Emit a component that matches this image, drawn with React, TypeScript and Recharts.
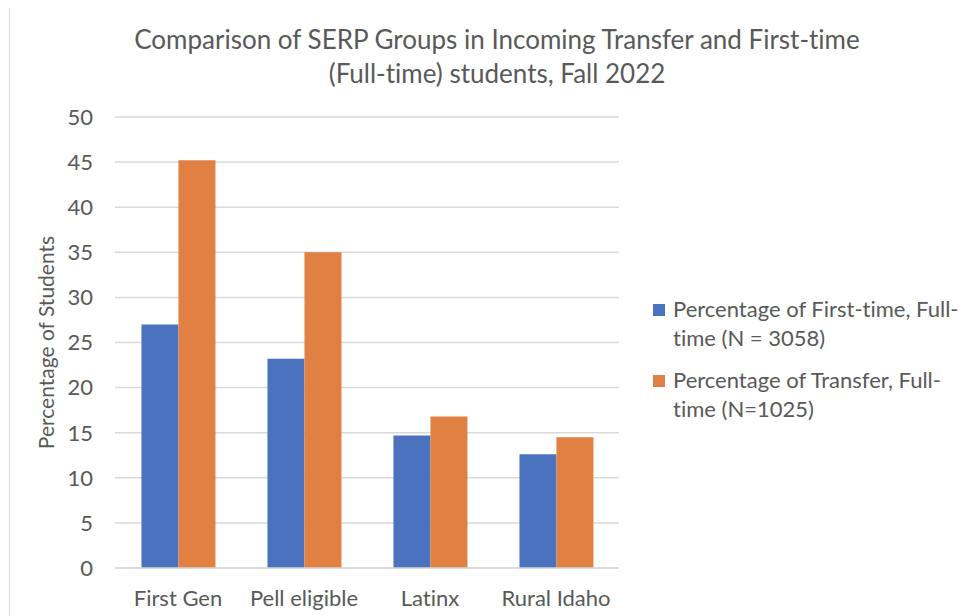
import { Bar, BarChart, CartesianGrid, Legend, XAxis, YAxis } from "recharts";

const categories = ["First Gen", "Pell eligible", "Latinx", "Rural Idaho"];
const firstTimeValues = [27, 23.2, 14.7, 12.6];
const transferValues = [45.2, 35, 16.8, 14.5];
const yTicks = [0, 5, 10, 15, 20, 25, 30, 35, 40, 45, 50];

const firstTimeName = "Percentage of First-time, Full-time (N = 3058)";
const transferName = "Percentage of Transfer, Full-time (N=1025)";
const titleLines = [
  "Comparison of SERP Groups in Incoming Transfer and First-time",
  "(Full-time) students, Fall 2022"
];

const FONT = "Lato, 'Open Sans', sans-serif";
const TEXT = "#595959";
const BLUE = "#4A72BE";
const ORANGE = "#E08143";

const data = categories.map((name, i) => ({
  name,
  firstTime: firstTimeValues[i],
  transfer: transferValues[i]
}));

function LegendBox({ payload }: any) {
  return (
    <div style={{ fontFamily: FONT, fontSize: 22, color: TEXT, lineHeight: "29px", fontVariantLigatures: "none" }}>
      {(payload || []).map((entry: any) => (
        <div key={entry.value} style={{ display: "flex", marginBottom: 13 }}>
          <span
            style={{
              display: "inline-block",
              width: 12,
              height: 12,
              background: entry.color,
              marginTop: 10,
              marginRight: 8,
              flexShrink: 0
            }}
          />
          <span style={{ width: 300 }}>{entry.value}</span>
        </div>
      ))}
    </div>
  );
}

export default function App() {
  return (
    <div
      style={{
        position: "absolute",
        left: 0,
        top: 0,
        width: 970,
        height: 616,
        background: "#fff",
        overflow: "hidden",
        fontVariantLigatures: "none"
      }}
    >
      <div style={{ position: "absolute", left: 9, top: 8, width: 1, height: 608, background: "#d9d9d9" }} />
      {titleLines.map((line, i) => (
        <div
          key={line}
          style={{
            position: "absolute",
            left: 0,
            width: 994,
            top: 23 + i * 34,
            lineHeight: "32px",
            textAlign: "center",
            fontFamily: FONT,
            fontSize: 26,
            color: TEXT,
            whiteSpace: "nowrap"
          }}
        >
          {line}
        </div>
      ))}
      <BarChart
        width={970}
        height={616}
        data={data}
        margin={{ top: 117, right: 351, bottom: 0, left: 0 }}
        barCategoryGap="21%"
        barGap={0}
      >
        <CartesianGrid vertical={false} stroke="#d9d9d9" strokeWidth={1.5} />
        <XAxis
          dataKey="name"
          height={48}
          axisLine={{ stroke: "#d9d9d9", strokeWidth: 1.5 }}
          tickLine={false}
          tickSize={0}
          tickMargin={22}
          tick={{ fill: TEXT, fontSize: 22, fontFamily: FONT }}
          interval={0}
        />
        <YAxis
          width={115}
          domain={[0, 50]}
          ticks={yTicks}
          axisLine={false}
          tickLine={false}
          tickSize={0}
          tickMargin={22}
          tick={{ fill: TEXT, fontSize: 22, fontFamily: FONT }}
          label={{
            value: "Percentage of Students",
            angle: -90,
            position: "center",
            dx: -11,
            style: { fill: TEXT, fontSize: 21, fontFamily: FONT }
          }}
        />
        <Legend
          layout="vertical"
          align="center"
          verticalAlign="middle"
          wrapperStyle={{ left: 653, top: 294, width: 317 }}
          content={<LegendBox />}
        />
        <Bar dataKey="firstTime" name={firstTimeName} fill={BLUE} isAnimationActive={false} />
        <Bar dataKey="transfer" name={transferName} fill={ORANGE} isAnimationActive={false} />
      </BarChart>
    </div>
  );
}
